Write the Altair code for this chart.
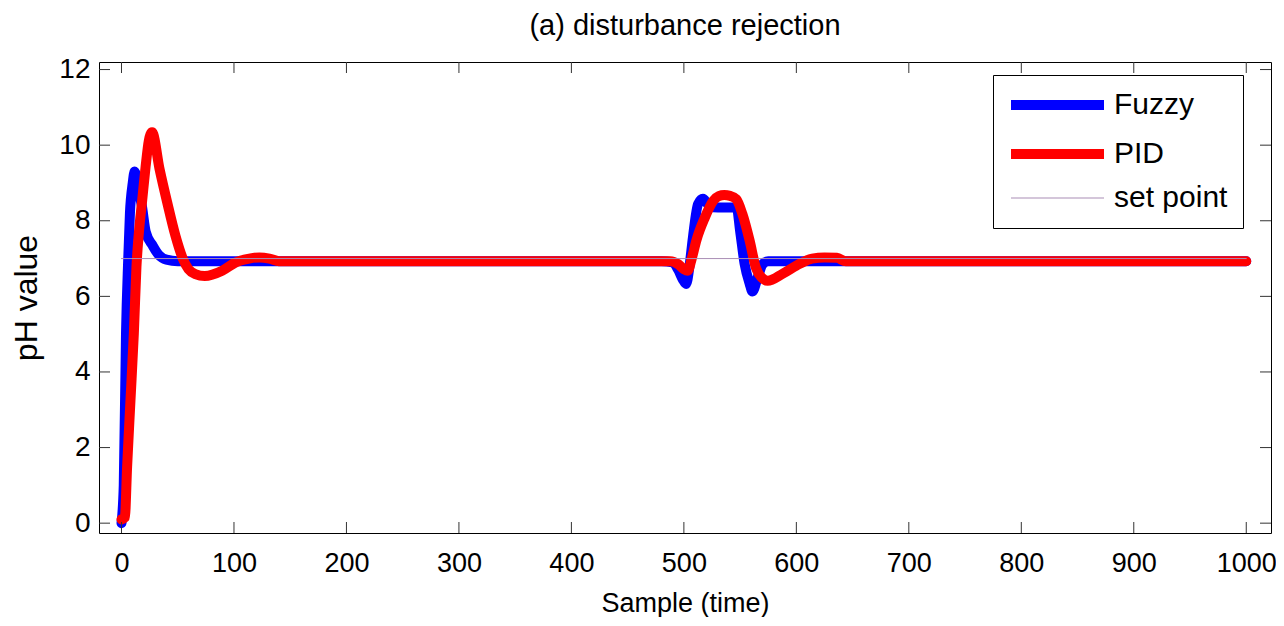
import altair as alt
import pandas as pd

# ---- data ----
series_names = ["Fuzzy", "PID", "set point"]
series_colors = ["#0000FF", "#FF0000", "#A98DB5"]
series_widths = [10, 10, 1]

fuzzy_x = [0, 2, 4, 6, 7.5, 10, 11.6, 13, 15, 17.8, 21.6, 27.6, 33, 40, 50, 100,
           480, 490, 495, 499, 502, 505, 508, 512.6, 517, 521, 526, 535, 547,
           550, 554, 558.5, 561, 565.6, 570, 575, 1000]
fuzzy_y = [0, 1.0, 5.0, 7.0, 8.2, 9.0, 9.3, 9.2, 8.8, 8.45, 7.7, 7.35, 7.1, 6.97, 6.93, 6.93,
           6.93, 6.9, 6.7, 6.45, 6.33, 6.8, 7.55, 8.44, 8.58, 8.45, 8.36, 8.35, 8.35,
           7.73, 6.86, 6.33, 6.13, 6.5, 6.85, 6.93, 6.93]

pid_x = [0, 3, 5, 8, 11, 13.3, 15.4, 18.4, 21.4, 24.3, 27.2, 33.9, 40.6, 48, 54.5,
         59.6, 65.6, 74, 89.5, 101.6, 113.6, 122.6, 131.5, 140, 200,
         488, 495, 500, 503.5, 507, 511, 518.6, 526, 531, 536, 541, 546.6, 552, 558.5,
         564, 569, 574.5, 588, 603, 614, 625, 636, 644, 1000]
pid_y = [0.1, 0.15, 1.5, 3.26, 5.03, 6.78, 7.66, 8.54, 9.42, 10.12, 10.34, 9.36, 8.49, 7.6, 7.0,
         6.72, 6.59, 6.54, 6.68, 6.9, 7.0, 7.03, 7.0, 6.93, 6.93,
         6.93, 6.85, 6.72, 6.68, 7.0, 7.47, 8.08, 8.52, 8.65, 8.68, 8.66, 8.57, 8.18, 7.47,
         6.76, 6.5, 6.41, 6.6, 6.86, 7.0, 7.03, 7.02, 6.93, 6.93]

setpoint_x = [0, 1000]
setpoint_y = [7, 7]

x_ticks = [0, 100, 200, 300, 400, 500, 600, 700, 800, 900, 1000]
y_ticks = [0, 2, 4, 6, 8, 10, 12]

x_domain = [-20, 1022]
y_domain = [-0.26, 12.2]

# ---- tables ----
df = pd.concat([
    pd.DataFrame({"x": fuzzy_x, "y": fuzzy_y, "series": "Fuzzy"}),
    pd.DataFrame({"x": pid_x, "y": pid_y, "series": "PID"}),
    pd.DataFrame({"x": setpoint_x, "y": setpoint_y, "series": "set point"}),
], ignore_index=True)
xt = pd.DataFrame({"x": x_ticks})
yt = pd.DataFrame({"y": y_ticks})

W, H = 1172, 471
FONT = "Liberation Sans"

xscale = alt.Scale(domain=x_domain, nice=False, zero=False)
yscale = alt.Scale(domain=y_domain, nice=False, zero=False)

legend = alt.Legend(
    title=None, orient="none", legendX=894, legendY=13,
    symbolType="M-1.2,0H8.1", symbolSize=400, labelFontSize=30, labelFont=FONT,
    labelColor="black", labelOffset=76, strokeColor="black", fillColor="white",
    padding=15, rowPadding=9, cornerRadius=0,
)

x_axis = alt.Axis(values=x_ticks, format="d", grid=False, ticks=False, tickSize=0, domain=False,
                  labelFontSize=27, labelFont=FONT, labelColor="black",
                  labelPadding=17, labelFlush=False, labelOverlap=False,
                  titleFontSize=27, titleFont=FONT, titleFontWeight="normal",
                  titleColor="black", titleBaseline="alphabetic", titleY=78)
y_axis = alt.Axis(values=y_ticks, grid=False, ticks=False, tickSize=0, domain=False,
                  labelFontSize=28, labelFont=FONT, labelColor="black",
                  labelPadding=9, labelOverlap=False, labelFlush=False,
                  titleFontSize=32, titleFont=FONT, titleFontWeight="normal",
                  titleColor="black", titleBaseline="alphabetic", titleX=-63)

x_enc = alt.X("x:Q", scale=xscale, title="Sample (time)", axis=x_axis)
y_enc = alt.Y("y:Q", scale=yscale, title="pH value", axis=y_axis)
color_enc = alt.Color("series:N", scale=alt.Scale(domain=series_names, range=series_colors),
                      legend=legend)
sw_enc = alt.StrokeWidth("series:N",
                         scale=alt.Scale(type="ordinal", domain=series_names, range=series_widths),
                         legend=legend)

def series_layer(name):
    return alt.Chart(df).transform_filter(alt.datum.series == name).mark_line(
        strokeCap="round", strokeJoin="round", interpolate="monotone"
    ).encode(x=x_enc, y=y_enc, color=color_enc, strokeWidth=sw_enc)

tick_color = "#333333"
bottom_ticks = alt.Chart(xt).mark_rule(color=tick_color, strokeWidth=1).encode(
    x=x_enc, y=alt.value(H), y2=alt.value(H - 11))
top_ticks = alt.Chart(xt).mark_rule(color=tick_color, strokeWidth=1).encode(
    x=x_enc, y=alt.value(0), y2=alt.value(11))
left_ticks = alt.Chart(yt).mark_rule(color=tick_color, strokeWidth=1).encode(
    y=y_enc, x=alt.value(0), x2=alt.value(11))
right_ticks = alt.Chart(yt).mark_rule(color=tick_color, strokeWidth=1).encode(
    y=y_enc, x=alt.value(W), x2=alt.value(W - 11))

chart = alt.layer(
    series_layer("Fuzzy"), series_layer("PID"), series_layer("set point"),
    bottom_ticks, top_ticks, left_ticks, right_ticks,
).properties(
    width=W, height=H,
    title=alt.TitleParams("(a) disturbance rejection", fontSize=29, font=FONT,
                          fontWeight="normal", color="black", anchor="middle",
                          frame="group", offset=15),
    autosize=alt.AutoSizeParams(type="none"),
    padding={"left": 91, "top": 54, "right": 5, "bottom": 84},
).configure(background="white").configure_view(stroke="black", strokeWidth=1)

chart.save("out.html", embed_options={"renderer": "svg", "actions": False})
